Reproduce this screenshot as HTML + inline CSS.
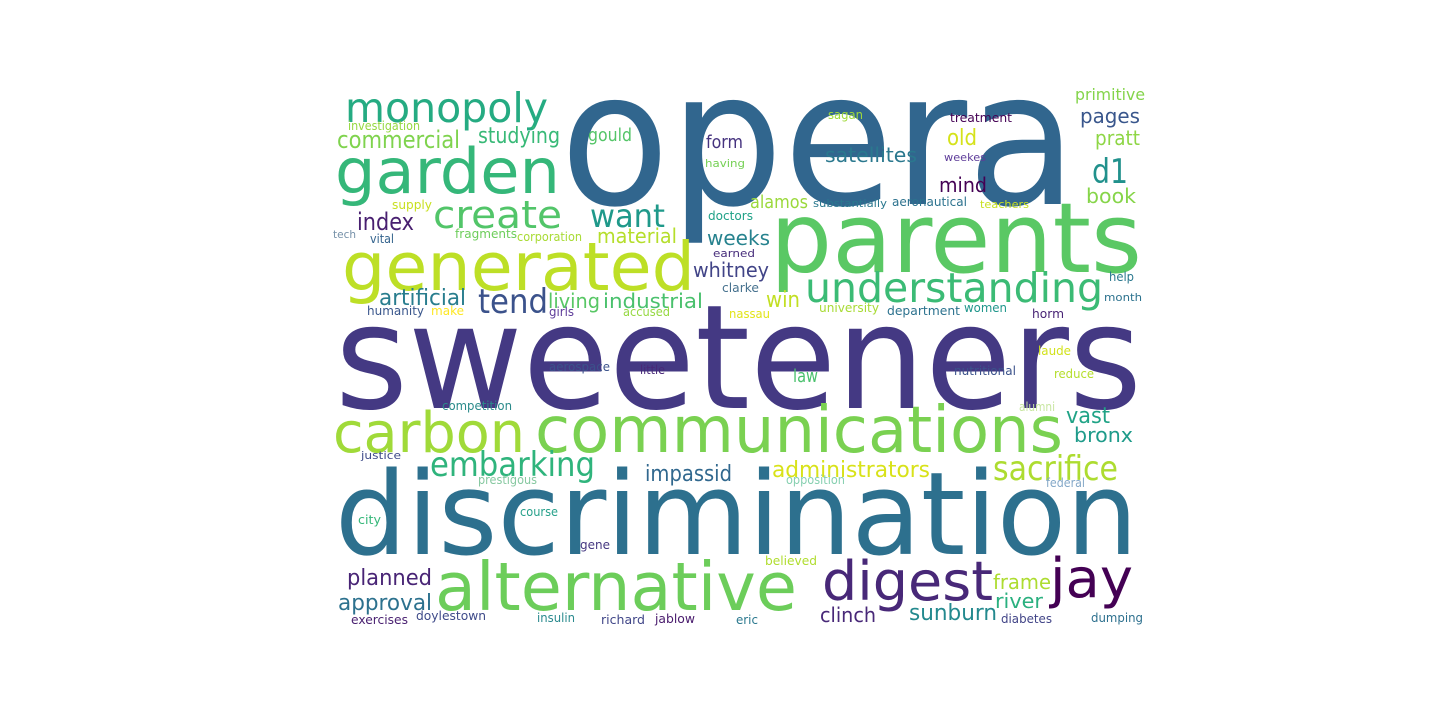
<!DOCTYPE html>
<html><head><meta charset="utf-8"><style>
html,body{margin:0;padding:0;background:#fff;}
svg{display:block;}
text{font-family:"DejaVu Sans","Liberation Sans",sans-serif;}
</style></head><body>
<svg id="cloud" width="1440" height="720" viewBox="0 0 1440 720" xmlns="http://www.w3.org/2000/svg">
<rect width="1440" height="720" fill="#fff"/>
</svg>
<script>
const words=["opera","sweeteners","discrimination","parents","communications","alternative","generated","garden","carbon","digest","jay","monopoly","understanding","create","embarking","sacrifice","tend","want","d1","commercial","studying","primitive","pages","pratt","satellites","old","book","mind","form","gould","index","material","weeks","whitney","artificial","living","industrial","win","alamos","vast","bronx","impassid","administrators","planned","approval","frame","river","clinch","sunburn","law","investigation","supply","tech","vital","fragments","corporation","humanity","make","girls","accused","sagan","treatment","weekes","having","doctors","substantially","aeronautical","teachers","earned","clarke","help","month","nassau","university","department","women","horm","aerospace","little","nutritional","laude","reduce","competition","alumni","justice","prestigous","opposition","federal","city","course","gene","believed","exercises","doylestown","insulin","richard","jablow","eric","diabetes","dumping"];
const lefts=[560,335,335,770,535,435,342,335,333,822,1050,345,805,433,430,993,478,590,1092,337,478,1075,1080,1095,825,947,1086,939,706,588,357,597,707,693,379,548,603,766,750,1066,1074,645,772,347,338,993,995,820,909,793,348,392,333,370,455,517,367,431,549,623,828,950,944,705,708,813,892,980,713,722,1109,1104,729,819,887,964,1032,549,640,954,1038,1054,442,1019,361,478,786,1046,358,520,580,765,351,416,537,601,655,736,1001,1091];
const rights=[1077,1142,1138,1142,1063,797,695,560,525,993,1133,548,1103,562,595,1118,548,665,1128,460,560,1145,1140,1140,917,977,1136,987,743,632,414,677,770,769,466,600,703,800,808,1110,1133,732,930,432,432,1051,1043,876,997,818,420,432,356,394,517,582,424,464,574,670,863,1012,986,745,753,887,967,1029,755,759,1134,1142,770,879,960,1007,1064,610,665,1016,1071,1094,512,1055,401,537,845,1085,381,558,610,817,408,486,575,645,695,758,1052,1143];
const baselines=[204,408,554,272,452,610,290,193,452,600,597,122,302,228,476,480,313,227,183,148,143,100,123,145,162,145,203,192,148,141,230,243,245,277,305,308,308,307,208,423,442,481,477,585,610,589,608,622,620,382,130,209,238,243,238,241,315,315,316,316,119,122,161,167,220,207,206,208,257,292,281,301,318,312,315,312,318,371,374,375,355,378,410,411,459,484,484,487,524,516,549,565,624,620,622,624,623,624,623,622];
const sizes=[186,145,115,97,64,67,67,62,56,54,54,41,41,38,34,34,34,32,34,24,22,16,20,20,20,22,20,20,18,18,24,20,20,20,22,20,20,22,18,22,20,22,22,22,22,20,20,20,22,18,12,12,11,12,12,12,12,12,12,12,12,12,11,11,12,11,12,11,11,12,12,11,12,12,12,12,12,12,12,12,12,12,12,12,11,12,12,12,12,12,12,12,12,12,12,12,12,12,12,12];
const colors=["#31668e","#443983","#2d708e","#5ac864","#7ad151","#6ccd5a","#bddf26","#35b779","#a0da39","#482878","#440154","#25ab82","#3bbb75","#52c569","#2fb47c","#addc30","#3b528b","#1f998a","#21918c","#7fd34e","#38b977","#84d44b","#39568c","#8ed645","#2a788e","#d5e21a","#86d549","#440154","#46337f","#54c568","#481f70","#b5de2b","#26828e","#414487","#287d8e","#58c765","#4ac16d","#c2df23","#9bd93c","#20a386","#1e9b8a","#31688e","#d8e219","#482475","#2c718e","#addc30","#2ab07f","#482878","#23898e","#4ac16d","#95d840","#c8e020","#7590a8","#33638d","#6ccd5a","#a8db34","#39568c","#fde725","#5e3c99","#95d840","#a0da39","#440154","#5e3c99","#75d054","#1fa187","#2a788e","#2c728e","#c8e020","#472d7b","#46718e","#2a788e","#2c728e","#e2e418","#a8db34","#2c728e","#1f968b","#482475","#3b528b","#482878","#3b528b","#d2e21b","#b5de2b","#2a8a8a","#c8e6a0","#3e4a89","#86c8a0","#86d0b0","#84a8c8","#35b779","#26a08a","#453781","#b0dd2f","#481f70","#3e4a89","#2a8a8e","#404688","#481a6c","#2a788e","#414487","#2d708e"];
const svg=document.getElementById('cloud');
const NS='http://www.w3.org/2000/svg';
for(let i=0;i<words.length;i++){
  const t=document.createElementNS(NS,'text');
  t.setAttribute('x',lefts[i]);
  t.setAttribute('y',baselines[i]);
  t.setAttribute('font-size',sizes[i]);
  t.setAttribute('fill',colors[i]);
  t.setAttribute('textLength',rights[i]-lefts[i]);
  t.setAttribute('lengthAdjust','spacingAndGlyphs');
  t.textContent=words[i];
  
  
  svg.appendChild(t);
}
</script>
</body></html>
